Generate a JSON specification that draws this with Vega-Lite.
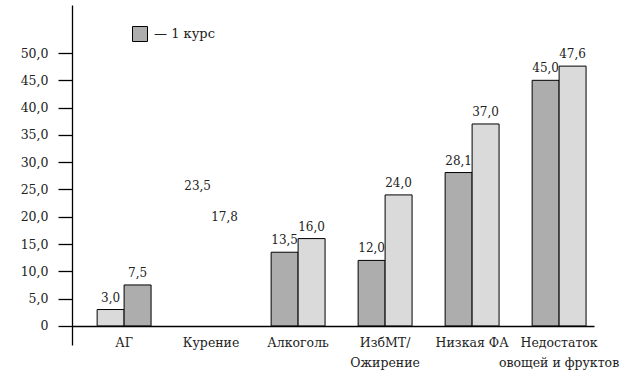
{
  "$schema": "https://vega.github.io/schema/vega-lite/v6.json",
  "autosize": {"type": "none"},
  "padding": {"left": 72, "top": 5, "right": 44, "bottom": 34},
  "width": 522,
  "height": 340,
  "background": "white",
  "config": {
    "view": {"stroke": null},
    "font": "DejaVu Serif",
    "text": {"font": "DejaVu Serif"},
    "locale": {"number": {"decimal": ",", "thousands": " ", "grouping": [3], "currency": ["", ""]}}
  },
  "data": {
    "values": [
      {"category": "АГ", "pos": 1, "series": "2 курс", "value": 3.0},
      {"category": "АГ", "pos": 2, "series": "1 курс", "value": 7.5},
      {"category": "Курение", "pos": 1, "series": "1 курс", "value": 23.5},
      {"category": "Курение", "pos": 2, "series": "2 курс", "value": 17.8},
      {"category": "Алкоголь", "pos": 1, "series": "1 курс", "value": 13.5},
      {"category": "Алкоголь", "pos": 2, "series": "2 курс", "value": 16.0},
      {"category": "ИзбМТ/Ожирение", "pos": 1, "series": "1 курс", "value": 12.0},
      {"category": "ИзбМТ/Ожирение", "pos": 2, "series": "2 курс", "value": 24.0},
      {"category": "Низкая ФА", "pos": 1, "series": "1 курс", "value": 28.1},
      {"category": "Низкая ФА", "pos": 2, "series": "2 курс", "value": 37.0},
      {"category": "Недостаток овощей и фруктов", "pos": 1, "series": "1 курс", "value": 45.0},
      {"category": "Недостаток овощей и фруктов", "pos": 2, "series": "2 курс", "value": 47.6}
    ]
  },
  "encoding": {
    "x": {
      "field": "category",
      "type": "nominal",
      "sort": ["АГ", "Курение", "Алкоголь", "ИзбМТ/Ожирение", "Низкая ФА", "Недостаток овощей и фруктов"],
      "scale": {"domain": ["АГ", "Курение", "Алкоголь", "ИзбМТ/Ожирение", "Низкая ФА", "Недостаток овощей и фруктов"], "paddingInner": 0.38, "paddingOuter": 0.19, "align": 0.76},
      "axis": {
        "title": null,
        "offset": -19,
        "domainColor": "#000",
        "domainWidth": 1.3,
        "ticks": false,
        "labelAngle": 0,
        "labelFont": "DejaVu Serif",
        "labelFontSize": 12.5,
        "labelColor": "#222",
        "labelPadding": 10,
        "labelBaseline": "top",
        "labelLineHeight": 20,
        "labelExpr": "datum.label == 'ИзбМТ/Ожирение' ? ['ИзбМТ/', 'Ожирение'] : datum.label == 'Недостаток овощей и фруктов' ? ['Недостаток', 'овощей и фруктов'] : datum.label"
      }
    },
    "xOffset": {"field": "pos", "type": "ordinal", "scale": {"paddingInner": 0, "paddingOuter": 0}},
    "y": {
      "field": "value",
      "type": "quantitative",
      "scale": {"domain": [-3.5, 58.8], "nice": false, "zero": false},
      "axis": {
        "title": null,
        "grid": false,
        "values": [0, 5, 10, 15, 20, 25, 30, 35, 40, 45, 50],
        "domainColor": "#000",
        "domainWidth": 1.3,
        "tickColor": "#000",
        "tickSize": 14,
        "tickWidth": 1.3,
        "labelPadding": 10,
        "labelFont": "DejaVu Serif",
        "labelFontSize": 12.5,
        "labelColor": "#222",
        "labelExpr": "datum.value == 0 ? '0' : format(datum.value, '.1f')"
      }
    }
  },
  "layer": [
    {
      "transform": [{"filter": "datum.category != 'Курение'"}],
      "mark": {"type": "bar", "stroke": "#000", "strokeWidth": 1},
      "encoding": {
        "y2": {"datum": 0},
        "color": {
          "field": "series",
          "type": "nominal",
          "scale": {"domain": ["1 курс", "2 курс"], "range": ["#adadad", "#dadada"]},
          "legend": {
            "values": ["1 курс"],
            "title": null,
            "orient": "none",
            "legendX": 60,
            "legendY": 21,
            "symbolType": "square",
            "symbolSize": 225,
            "symbolStrokeColor": "#000",
            "symbolStrokeWidth": 1,
            "labelFont": "DejaVu Serif",
            "labelFontSize": 13,
            "labelColor": "#222",
            "labelOffset": 6,
            "labelExpr": "'— ' + datum.label"
          }
        }
      }
    },
    {
      "mark": {"type": "text", "baseline": "bottom", "dy": -5, "fontSize": 12, "color": "#222", "font": "DejaVu Serif"},
      "encoding": {
        "text": {"field": "value", "type": "quantitative", "format": ".1f"}
      }
    }
  ]
}
